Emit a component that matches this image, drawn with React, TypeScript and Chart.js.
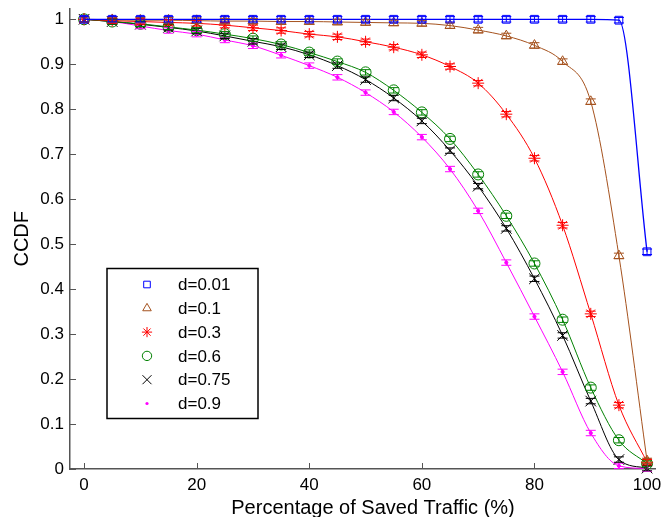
import React, { useEffect, useRef } from "react";
import { Chart, registerables } from "chart.js";

Chart.register(...registerables);

// ---------------- data ----------------
const xValues = [0, 5, 10, 15, 20, 25, 30, 35, 40, 45, 50, 55, 60, 65, 70, 75, 80, 85, 90, 95, 100];
const seriesLabels = ["d=0.01", "d=0.1", "d=0.3", "d=0.6", "d=0.75", "d=0.9"];
const ccdfD001 = [1, 1, 1, 1, 1, 1, 1, 1, 1, 1, 1, 1, 1, 1, 1, 1, 1, 1, 1, 0.998, 0.483];
const ccdfD01 = [1, 0.999, 0.998, 0.998, 0.997, 0.996, 0.996, 0.995, 0.995, 0.994, 0.993, 0.992, 0.991, 0.986, 0.976, 0.963, 0.942, 0.906, 0.817, 0.474, 0.018];
const ccdfD03 = [1, 0.997, 0.995, 0.993, 0.991, 0.987, 0.981, 0.975, 0.967, 0.961, 0.95, 0.938, 0.921, 0.895, 0.858, 0.789, 0.691, 0.542, 0.345, 0.142, 0.015];
const ccdfD06 = [1, 0.995, 0.99, 0.983, 0.976, 0.967, 0.957, 0.944, 0.926, 0.906, 0.882, 0.842, 0.793, 0.734, 0.655, 0.563, 0.457, 0.332, 0.181, 0.064, 0.012];
const ccdfD075 = [1, 0.995, 0.989, 0.982, 0.974, 0.963, 0.951, 0.939, 0.921, 0.897, 0.866, 0.825, 0.774, 0.708, 0.629, 0.535, 0.423, 0.297, 0.151, 0.021, 0.002];
const ccdfD09 = [1, 0.995, 0.985, 0.975, 0.967, 0.954, 0.941, 0.92, 0.897, 0.871, 0.837, 0.794, 0.738, 0.667, 0.574, 0.459, 0.339, 0.216, 0.08, 0.007, 0.001];
const seriesValues = [ccdfD001, ccdfD01, ccdfD03, ccdfD06, ccdfD075, ccdfD09];
const errorHalf = 0.006;
const xTicks = [0, 20, 40, 60, 80, 100];
const yTicks = [0, 0.1, 0.2, 0.3, 0.4, 0.5, 0.6, 0.7, 0.8, 0.9, 1];
const xTitle = "Percentage of Saved Traffic (%)";
const yTitle = "CCDF";

// ---------------- styles ----------------
const FONT = "'Liberation Sans', Arial, Helvetica, sans-serif";
const styles = [
  { color: "#0000ff", shape: "rect", r: 5.5, lw: 1.3 },
  { color: "#a5521e", shape: "triangle", r: 5.8, lw: 1 },
  { color: "#ff0000", shape: "star", r: 6, lw: 1 },
  { color: "#008000", shape: "circle", r: 5.5, lw: 1 },
  { color: "#000000", shape: "crossRot", r: 7.5, lw: 1 },
  { color: "#ff00ff", shape: "dot", r: 1.6, lw: 1 },
];

function drawMarker(ctx: CanvasRenderingContext2D, shape: string, x: number, y: number, r: number, color: string) {
  ctx.save();
  ctx.strokeStyle = color;
  ctx.fillStyle = color;
  ctx.lineWidth = 1;
  ctx.beginPath();
  if (shape === "rect") {
    const s = r * Math.SQRT1_2;
    ctx.rect(x - s, y - s, 2 * s, 2 * s);
    ctx.stroke();
  } else if (shape === "triangle") {
    for (let k = 0; k < 3; k++) {
      const a = -Math.PI / 2 + (k * 2 * Math.PI) / 3;
      const px = x + Math.cos(a) * r;
      const py = y + Math.sin(a) * r;
      if (k === 0) ctx.moveTo(px, py);
      else ctx.lineTo(px, py);
    }
    ctx.closePath();
    ctx.stroke();
  } else if (shape === "star") {
    for (let k = 0; k < 4; k++) {
      const a = (k * Math.PI) / 4;
      ctx.moveTo(x - Math.cos(a) * r, y - Math.sin(a) * r);
      ctx.lineTo(x + Math.cos(a) * r, y + Math.sin(a) * r);
    }
    ctx.stroke();
  } else if (shape === "circle") {
    ctx.arc(x, y, r, 0, Math.PI * 2);
    ctx.stroke();
  } else if (shape === "crossRot") {
    const s = r * Math.SQRT1_2;
    ctx.moveTo(x - s, y - s);
    ctx.lineTo(x + s, y + s);
    ctx.moveTo(x - s, y + s);
    ctx.lineTo(x + s, y - s);
    ctx.stroke();
  } else {
    ctx.arc(x, y, r, 0, Math.PI * 2);
    ctx.fill();
  }
  ctx.restore();
}

const errorBarPlugin = {
  id: "errorBars",
  afterDatasetsDraw(chart: any) {
    const { ctx, scales } = chart;
    const xs = scales.x;
    const ys = scales.y;
    ctx.save();
    for (let i = seriesValues.length - 1; i >= 0; i--) {
      ctx.strokeStyle = styles[i].color;
      ctx.lineWidth = 1;
      seriesValues[i].forEach((v, j) => {
        const px = xs.getPixelForValue(xValues[j]);
        const top = ys.getPixelForValue(v + errorHalf);
        const bot = ys.getPixelForValue(v - errorHalf);
        ctx.beginPath();
        ctx.moveTo(px, top);
        ctx.lineTo(px, bot);
        ctx.moveTo(px - 5, top);
        ctx.lineTo(px + 5, top);
        ctx.moveTo(px - 5, bot);
        ctx.lineTo(px + 5, bot);
        ctx.stroke();
      });
    }
    ctx.restore();
  },
};

const ticksAndLegendPlugin = {
  id: "ticksLegend",
  afterDraw(chart: any) {
    const { ctx, chartArea: ca, scales } = chart;
    ctx.save();
    // inward tick marks
    ctx.strokeStyle = "#555";
    ctx.lineWidth = 1;
    ctx.beginPath();
    xTicks.forEach((t) => {
      const px = Math.round(scales.x.getPixelForValue(t)) + 0.5;
      ctx.moveTo(px, ca.bottom);
      ctx.lineTo(px, ca.bottom - 6);
    });
    yTicks.forEach((t) => {
      const py = Math.round(scales.y.getPixelForValue(t)) + 0.5;
      ctx.moveTo(ca.left, py);
      ctx.lineTo(ca.left + 6, py);
    });
    ctx.stroke();

    // x axis title
    ctx.fillStyle = "#000";
    ctx.font = `20px ${FONT}`;
    ctx.textAlign = "center";
    ctx.textBaseline = "middle";
    ctx.fillText(xTitle, ca.left + 303, ca.bottom + 39);

    // legend box
    const bx = ca.left + 37;
    const by = ca.top + 260;
    const bw = 151;
    const bh = 150;
    ctx.fillStyle = "#ffffff";
    ctx.fillRect(bx, by, bw, bh);
    ctx.strokeStyle = "#000";
    ctx.lineWidth = 1.5;
    ctx.strokeRect(bx, by, bw, bh);
    ctx.font = `17px ${FONT}`;
    ctx.textBaseline = "middle";
    ctx.textAlign = "left";
    seriesLabels.forEach((lab, i) => {
      const yy = by + 16 + i * 23.8;
      const st = styles[i];
      drawMarker(ctx, st.shape, bx + 40, yy, st.shape === "dot" ? 1.6 : st.r * 0.85, st.color);
      ctx.fillStyle = "#000";
      ctx.fillText(lab, bx + 71, yy + 1);
    });
    ctx.restore();
  },
};

export default function App() {
  const canvasRef = useRef<HTMLCanvasElement | null>(null);

  useEffect(() => {
    document.body.style.margin = "0";
    const canvas = canvasRef.current;
    if (!canvas) return;

    const datasets = seriesLabels.map((lab, i) => {
      const st = styles[i];
      const isDot = st.shape === "dot";
      return {
        label: lab,
        data: xValues.map((x, j) => ({ x, y: seriesValues[i][j] })),
        borderColor: st.color,
        backgroundColor: isDot ? st.color : "rgba(0,0,0,0)",
        borderWidth: st.lw,
        pointStyle: isDot ? "circle" : st.shape,
        pointRadius: st.r,
        pointBorderWidth: 1,
        pointBorderColor: st.color,
        pointBackgroundColor: isDot ? st.color : "rgba(0,0,0,0)",
        cubicInterpolationMode: "monotone" as const,
        fill: false,
        clip: false as any,
      };
    });

    const chart = new Chart(canvas, {
      type: "line",
      data: { datasets },
      plugins: [errorBarPlugin, ticksAndLegendPlugin],
      options: {
        responsive: false,
        animation: false,
        devicePixelRatio: 1,
        layout: { padding: { top: 7, right: 7, left: 0, bottom: 0 } },
        plugins: { legend: { display: false }, tooltip: { enabled: false } },
        scales: {
          x: {
            type: "linear",
            min: -2.5,
            max: 101.5,
            afterBuildTicks: (s: any) => {
              s.ticks = xTicks.map((v) => ({ value: v }));
            },
            afterFit: (s: any) => {
              s.height = 48;
              s.paddingLeft = 0;
              s.paddingRight = 0;
            },
            ticks: {
              padding: 6,
              color: "#000",
              font: { family: FONT, size: 17 },
              maxRotation: 0,
              autoSkip: false,
              callback: (v: any) => String(v),
            },
            grid: { display: false, drawTicks: false },
            border: { display: true, color: "#555", width: 1.5 },
            title: { display: false },
          },
          y: {
            type: "linear",
            min: 0,
            max: 1.024,
            afterBuildTicks: (s: any) => {
              s.ticks = yTicks.map((v) => ({ value: v }));
            },
            afterFit: (s: any) => {
              s.width = 70;
              s.paddingTop = 0;
              s.paddingBottom = 0;
            },
            ticks: {
              padding: 6,
              color: "#000",
              font: { family: FONT, size: 17 },
              autoSkip: false,
              callback: (v: any) => String(Number(Number(v).toFixed(1))),
            },
            grid: { display: false, drawTicks: false },
            border: { display: true, color: "#555", width: 1.5 },
            title: {
              display: true,
              text: yTitle,
              color: "#000",
              font: { family: FONT, size: 20 },
              padding: { top: 10, bottom: 0 },
            },
          },
        },
      } as any,
    });

    return () => chart.destroy();
  }, []);

  return (
    <div style={{ width: 664, height: 517 }}>
      <canvas ref={canvasRef} width={664} height={517} style={{ display: "block" }} />
    </div>
  );
}
